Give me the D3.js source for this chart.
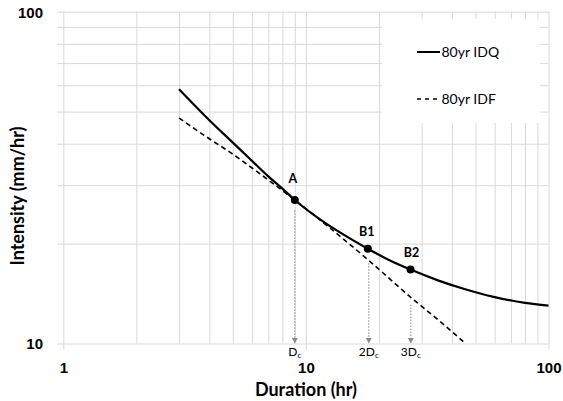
<!DOCTYPE html>
<html>
<head>
<meta charset="utf-8">
<script src="https://cdn.jsdelivr.net/npm/d3@7"></script>
<style>
  html, body { margin: 0; padding: 0; background: #fff; }
  svg { display: block; font-family: Lato, "Open Sans", sans-serif; }
</style>
</head>
<body>
<svg id="chart" width="563" height="401"></svg>
<script>
// ---- data ----
const idqDuration = [3, 4, 5, 6, 7, 8, 9, 12, 15, 18, 22, 27, 35, 45, 60, 80, 100];
const idqIntensity = [58.4, 47.1, 40.3, 35.5, 31.9, 29.3, 27.07, 23.1, 20.85, 19.3, 17.85, 16.7, 15.5, 14.6, 13.8, 13.25, 13.0];

const idfDuration = [3, 4, 5, 6, 7, 9, 12, 18, 27, 35, 45.5];
const idfIntensity = [47.8, 41.4, 37.2, 33.8, 31.1, 27.07, 22.9, 17.9, 13.8, 11.8, 10.0];

const pointLabels = ["A", "B1", "B2"];
const pointDuration = [9, 18, 27];
const pointIntensity = [27.07, 19.3, 16.7];
const arrowTop = [25.2, 17.45, 13.1];
const arrowLabels = [["D", "c"], ["2D", "c"], ["3D", "c"]];

const xGridValues = [1, 2, 3, 4, 5, 6, 7, 8, 9, 10, 20, 30, 40, 50, 60, 70, 80, 90, 100];
const yGridValues = [10, 20, 30, 40, 50, 60, 70, 80, 90, 100];
const xTickLabels = [1, 10, 100];
const yTickLabels = [10, 100];

const seriesNames = ["80yr IDQ", "80yr IDF"];
const xTitle = "Duration (hr)";
const yTitle = "Intensity (mm/hr)";

// ---- layout ----
const W = 563, H = 401;
const margin = { left: 63.3, right: W - 548.5, top: 11.7, bottom: H - 343.5 };
const plotW = W - margin.left - margin.right;
const plotH = H - margin.top - margin.bottom;

const svg = d3.select("#chart");
const g = svg.append("g").attr("transform", `translate(${margin.left},${margin.top})`);

const x = d3.scaleLog().domain([1, 100]).range([0, plotW]);
const y = d3.scaleLog().domain([10, 100]).range([plotH, 0]);

const gridColor = "#d9d9d9";

// x grid + labels
const gx = g.append("g")
  .attr("transform", `translate(0,${plotH})`)
  .call(d3.axisBottom(x).tickValues(xGridValues).tickSizeInner(-plotH).tickSizeOuter(0)
    .tickFormat(d => xTickLabels.includes(d) ? d3.format("d")(d) : ""));
gx.select(".domain").remove();
gx.selectAll(".tick line")
  .attr("stroke", gridColor)
  .attr("y1", d => xTickLabels.includes(d) ? 6 : 0);
gx.selectAll(".tick text")
  .attr("y", 29).attr("dy", null)
  .attr("fill", "#000")
  .style("font-size", "15px").style("font-weight", "bold");

// y grid + labels
const gy = g.append("g")
  .call(d3.axisLeft(y).tickValues(yGridValues).tickSizeInner(-plotW).tickSizeOuter(0).tickPadding(20.3)
    .tickFormat(d => yTickLabels.includes(d) ? d3.format("d")(d) : ""));
gy.select(".domain").remove();
gy.selectAll(".tick line")
  .attr("stroke", gridColor)
  .attr("x1", -6);
gy.selectAll(".tick text")
  .attr("dy", "0.36em")
  .attr("fill", "#000")
  .style("font-size", "15px").style("font-weight", "bold");

// legend background (covers gridlines)
const legendBox = { x: 382 - margin.left, y: 19 - margin.top, w: 158, h: 104 };
g.append("rect")
  .attr("x", legendBox.x).attr("y", legendBox.y)
  .attr("width", legendBox.w).attr("height", legendBox.h)
  .attr("fill", "#fff");

// curves
const line = d3.line().x(d => x(d[0])).y(d => y(d[1])).curve(d3.curveMonotoneX);
const idqData = idqDuration.map((d, i) => [d, idqIntensity[i]]);
const idfData = idfDuration.map((d, i) => [d, idfIntensity[i]]);

g.append("path").datum(idfData)
  .attr("d", line)
  .attr("fill", "none").attr("stroke", "#000")
  .attr("stroke-width", 1.6).attr("stroke-dasharray", "5,3.5");

g.append("path").datum(idqData)
  .attr("d", line)
  .attr("fill", "none").attr("stroke", "#000")
  .attr("stroke-width", 2.2);

// arrows
const arrowColor = "#8a8a8a";
pointDuration.forEach((d, i) => {
  const ax = Math.round(x(d)) + 0.5;
  g.append("line")
    .attr("x1", ax).attr("x2", ax)
    .attr("y1", y(arrowTop[i])).attr("y2", plotH - 4)
    .attr("stroke", arrowColor).attr("stroke-width", 1)
    .attr("stroke-dasharray", "1.5,1.5");
  g.append("path")
    .attr("d", `M${ax - 3},${plotH - 5.5}L${ax + 3},${plotH - 5.5}L${ax},${plotH}Z`)
    .attr("fill", arrowColor);
  const t = g.append("text")
    .attr("x", ax).attr("y", plotH + 12.8)
    .attr("text-anchor", "middle")
    .style("font-size", "12px").attr("fill", "#000");
  t.append("tspan").text(arrowLabels[i][0]);
  t.append("tspan").text(arrowLabels[i][1])
    .style("font-size", "8px").attr("dy", "2");
});

// points + labels
const labelOffset = [[-2, -17], [-1, -13], [1, -13]];
pointDuration.forEach((d, i) => {
  g.append("circle")
    .attr("cx", x(d)).attr("cy", y(pointIntensity[i]))
    .attr("r", 4).attr("fill", "#000");
  g.append("text")
    .attr("x", x(d) + labelOffset[i][0]).attr("y", y(pointIntensity[i]) + labelOffset[i][1])
    .attr("text-anchor", "middle")
    .style("font-size", "12.5px").style("font-weight", "bold")
    .attr("fill", "#000")
    .text(pointLabels[i]);
});

// legend
const legX1 = 417 - margin.left, legX2 = 440 - margin.left;
const legY = [52 - margin.top, 99 - margin.top];
seriesNames.forEach((name, i) => {
  g.append("line")
    .attr("x1", legX1).attr("x2", legX2)
    .attr("y1", legY[i]).attr("y2", legY[i])
    .attr("stroke", "#000")
    .attr("stroke-width", i === 0 ? 2 : 1.6)
    .attr("stroke-dasharray", i === 0 ? null : "4,4");
  g.append("text")
    .attr("x", legX2 + 1.5).attr("y", legY[i] + 5.2)
    .style("font-size", "14px").attr("fill", "#000")
    .text(name);
});

// axis titles
svg.append("text")
  .attr("x", 306).attr("y", 395.5)
  .attr("text-anchor", "middle")
  .style("font-size", "18px").style("font-weight", "bold")
  .text(xTitle);

svg.append("text")
  .attr("transform", "translate(23.5,196) rotate(-90)")
  .attr("text-anchor", "middle")
  .style("font-size", "18px").style("font-weight", "bold")
  .text(yTitle);
</script>
</body>
</html>
